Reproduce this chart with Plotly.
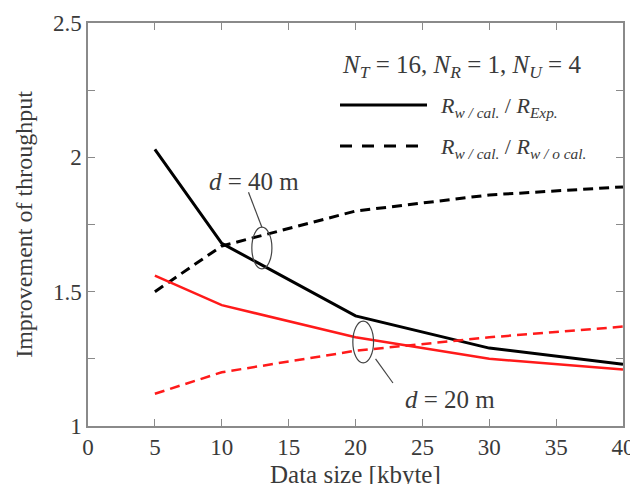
import plotly.graph_objects as go

data_size = [5, 10, 20, 30, 40]
d40_exp = [2.03, 1.68, 1.41, 1.29, 1.23]
d40_wocal = [1.50, 1.67, 1.80, 1.86, 1.89]
d20_exp = [1.56, 1.45, 1.33, 1.25, 1.21]
d20_wocal = [1.12, 1.20, 1.28, 1.33, 1.37]

FONT = "Liberation Serif"
TXT = "#3a3a3a"
AX = "#8a8a8a"

W, H = 630, 484
L, R, T, B = 88, 7, 23, 58
pw, ph = W - L - R, H - T - B
def px(xp, yp):
    return (xp - L) / pw, 1 - (yp - T) / ph

fig = go.Figure()
fig.add_trace(go.Scatter(x=data_size, y=d40_exp, mode="lines",
                         line=dict(color="black", width=3), showlegend=False))
fig.add_trace(go.Scatter(x=data_size, y=d40_wocal, mode="lines",
                         line=dict(color="black", width=3, dash="10px,6px"), showlegend=False))
fig.add_trace(go.Scatter(x=data_size, y=d20_exp, mode="lines",
                         line=dict(color="#ff1a1a", width=2.5), showlegend=False))
fig.add_trace(go.Scatter(x=data_size, y=d20_wocal, mode="lines",
                         line=dict(color="#ff1a1a", width=2.5, dash="10px,6px"), showlegend=False))

# ellipses and pointer lines
fig.add_shape(type="circle", xref="x", yref="y", x0=12.25, x1=13.75, y0=1.585, y1=1.74,
              line=dict(color="#444", width=1.2))
fig.add_shape(type="line", xref="x", yref="y", x0=12.0, y0=1.87, x1=13.0, y1=1.74,
              line=dict(color="#444", width=1.2))
fig.add_annotation(x=12.4, y=1.91, xref="x", yref="y", showarrow=False,
                   text="<i>d</i> = 40 m", font=dict(family=FONT, size=25, color=TXT))

fig.add_shape(type="circle", xref="x", yref="y", x0=19.8, x1=21.35, y0=1.235, y1=1.39,
              line=dict(color="#444", width=1.2))
fig.add_shape(type="line", xref="x", yref="y", x0=21.5, y0=1.25, x1=22.8, y1=1.16,
              line=dict(color="#444", width=1.2))
fig.add_annotation(x=27.1, y=1.097, xref="x", yref="y", showarrow=False,
                   text="<i>d</i> = 20 m", font=dict(family=FONT, size=25, color=TXT))

# legend block
ax_, ay_ = px(340, 66)
fig.add_annotation(x=ax_, y=ay_, xref="paper", yref="paper", showarrow=False,
                   xanchor="left", yanchor="middle",
                   text="<i>N</i><sub><i>T</i></sub> = 16, <i>N</i><sub><i>R</i></sub> = 1, <i>N</i><sub><i>U</i></sub> = 4",
                   font=dict(family=FONT, size=25, color=TXT))

x0, y0 = px(340, 105); x1, _ = px(427, 105)
fig.add_shape(type="line", xref="paper", yref="paper", x0=x0, x1=x1, y0=y0, y1=y0,
              line=dict(color="black", width=3))
tx, ty = px(438, 107)
fig.add_annotation(x=tx, y=ty, xref="paper", yref="paper", showarrow=False,
                   xanchor="left", yanchor="middle",
                   text="<i>R</i><sub><i>w / cal.</i></sub> / <i>R</i><sub><i>Exp.</i></sub>",
                   font=dict(family=FONT, size=22, color=TXT))
x0, y0 = px(340, 146); x1, _ = px(427, 146)
fig.add_shape(type="line", xref="paper", yref="paper", x0=x0, x1=x1, y0=y0, y1=y0,
              line=dict(color="black", width=3, dash="12px,10px"))
tx, ty = px(438, 148)
fig.add_annotation(x=tx, y=ty, xref="paper", yref="paper", showarrow=False,
                   xanchor="left", yanchor="middle",
                   text="<i>R</i><sub><i>w / cal.</i></sub> / <i>R</i><sub><i>w / o cal.</i></sub>",
                   font=dict(family=FONT, size=22, color=TXT))

# x-axis title as annotation placed below tick labels
xt, yt = px(355, 474)
fig.add_annotation(x=0.5, y=yt, xref="paper", yref="paper", showarrow=False,
                   xanchor="center", yanchor="middle",
                   text="Data size [kbyte]", font=dict(family=FONT, size=25, color=TXT))

fig.update_layout(
    width=W, height=H,
    margin=dict(l=L, r=R, t=T, b=B),
    paper_bgcolor="white", plot_bgcolor="white",
    font=dict(family=FONT, size=22, color=TXT),
    xaxis=dict(range=[0, 40], tickvals=[0, 5, 10, 15, 20, 25, 30, 35, 40],
               ticks="inside", ticklen=7, tickcolor=AX, automargin=False,
               showline=True, linecolor=AX, linewidth=1.5, mirror="ticks",
               showgrid=False, zeroline=False, ticklabeloverflow="allow",
               tickfont=dict(size=23)),
    yaxis=dict(range=[1, 2.5], dtick=0.5, ticks="inside", ticklen=7, tickcolor=AX,
               showline=True, linecolor=AX, linewidth=1.5, mirror="ticks", automargin=False,
               showgrid=False, zeroline=False, ticklabeloverflow="allow",
               minor=dict(dtick=0.25, ticks="inside", ticklen=7, tickcolor=AX),
               title=dict(text="Improvement of throughput", standoff=14, font=dict(size=24)),
               tickfont=dict(size=23)),
)

fig.write_html("out.html")
